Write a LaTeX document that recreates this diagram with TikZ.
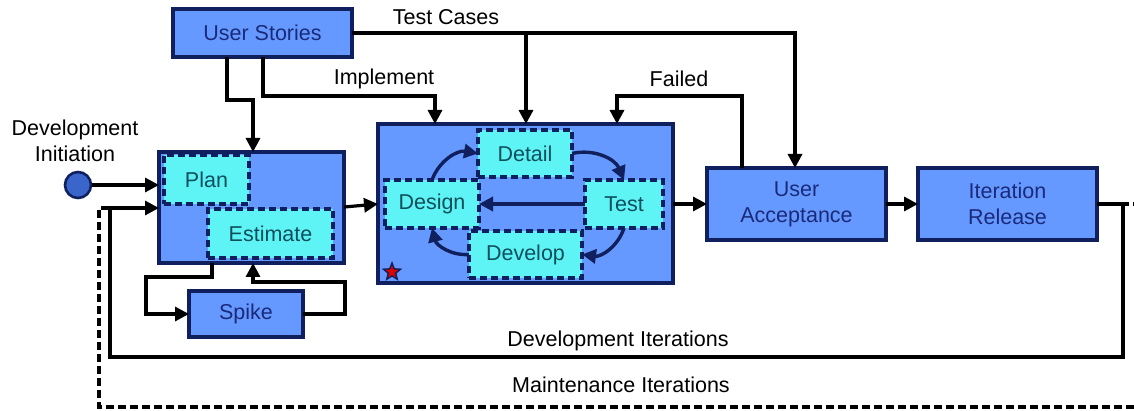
\documentclass[tikz,border=0pt]{standalone}
\usepackage{fontspec}
\setmainfont{Liberation Sans}
\usetikzlibrary{arrows.meta,shapes.geometric}
\definecolor{boxblue}{HTML}{6699FF}
\definecolor{boxcyan}{HTML}{5EF4F6}
\definecolor{navy}{HTML}{10205E}
\definecolor{navytext}{HTML}{1A2A7A}
\definecolor{tealtext}{HTML}{0E4F5C}
\definecolor{dotblue}{HTML}{3A66CC}
\begin{document}
\begin{tikzpicture}[x=1pt,y=-1pt,
  every node/.style={font=\fontsize{21.5}{26}\selectfont},
  bluebox/.style={draw=navy,line width=3.2pt,fill=boxblue,text=navytext,
    inner sep=0pt,outer sep=0pt,align=center},
  subbox/.style={draw=navy,line width=3.2pt,fill=boxcyan,text=tealtext,
    dash pattern=on 7pt off 4pt,inner sep=0pt,outer sep=0pt},
  lbl/.style={text=black,inner sep=0pt},
  conn/.style={line width=3.2pt,draw=black,-{Triangle[length=14pt,width=14pt]}},
  cyc/.style={line width=3.4pt,draw=navy,-{Triangle[length=14pt,width=14pt]}},
  maint/.style={line width=3.4pt,draw=black,dash pattern=on 8pt off 4pt}]
\clip (0,0) rectangle (1134,411);
\fill[white] (0,0) rectangle (1134,411);

% boxes
\node[bluebox,minimum width=179pt,minimum height=48pt] (us) at (262.5,33) {User Stories};
\node[bluebox,minimum width=185pt,minimum height=111pt] (pe) at (251.5,207.5) {};
\node[subbox,minimum width=85pt,minimum height=49pt] (plan) at (206.5,179.5) {Plan};
\node[subbox,minimum width=125pt,minimum height=49pt] (est) at (270.5,233.5) {Estimate};
\node[bluebox,minimum width=114pt,minimum height=46pt] (spike) at (246,314) {Spike};
\node[bluebox,minimum width=295pt,minimum height=159pt] (mid) at (525.5,203.5) {};
\node[subbox,minimum width=94pt,minimum height=47pt] (detail) at (525,153.5) {Detail};
\node[subbox,minimum width=94pt,minimum height=48pt] (design) at (432,204) {Design};
\node[subbox,minimum width=78pt,minimum height=48pt] (test) at (624,204) {Test};
\node[subbox,minimum width=113pt,minimum height=47pt] (develop) at (525.5,254.5) {Develop};
\node[star,star points=5,star point ratio=2.3,minimum size=18pt,inner sep=0pt,
  fill=red!85!black,draw=navy,line width=1.4pt] (mark) at (392,272) {};
\node[bluebox,minimum width=179pt,minimum height=72pt] (ua) at (796.5,204) {User\\Acceptance};
\node[bluebox,minimum width=179pt,minimum height=72pt] (ir) at (1007.5,204) {Iteration\\Release};
\node[circle,draw=navy,line width=2.6pt,fill=dotblue,minimum size=26pt,inner sep=0pt] (init) at (78,185) {};

% labels
\node[lbl,align=center] (initlbl) at (75,141) {Development\\Initiation};
\node[lbl] (tclbl) at (446,17) {Test Cases};
\node[lbl] (implbl) at (384,79) {Implement};
\node[lbl] (faillbl) at (679,79) {Failed};
\node[lbl] (devlbl) at (618,341) {Development Iterations};
\node[lbl] (mntlbl) at (621,385) {Maintenance Iterations};

% maintenance loop (dashed)
\coordinate (mA) at (1140,204);
\coordinate (mB) at (1140,407);
\coordinate (mC) at (99,407);
\coordinate (mD) at (99,208);
\draw[maint] (ir.east) -- (mA) -- (mB) -- (mC) -- (mD) -- (110,208);

% development loop
\coordinate (dA) at (1123,204);
\coordinate (dB) at (1123,357);
\coordinate (dC) at (110,357);
\coordinate (dD) at (110,208);
\draw[conn] (ir.east) -- (dA) -- (dB) -- (dC) -- (dD) -- (dD -| pe.west);

% initiation
\draw[conn] (init.east) -- (init -| pe.west);

% user stories into planning
\draw[conn] (227,0 |- us.south) -- (227,100) -- (253,100) -- (253,0 |- pe.north);
% implement
\draw[conn] (263,0 |- us.south) -- (263,96) -- (435,96) -- (435,0 |- mid.north);
% test cases
\draw[conn] (us.east |- 0,33) -- (795,33) -- (795,0 |- ua.north);
\draw[conn] (526,33) -- (526,0 |- mid.north);
% failed
\draw[conn] (742,0 |- ua.north) -- (742,96) -- (617,96) -- (617,0 |- mid.north);

% main flow
\draw[conn] (pe.east |- 0,207) -- (mid.west |- 0,204);
\draw[conn] (mid.east |- ua.west) -- (ua.west);
\draw[conn] (ua.east) -- (ir.west);

% spike loop
\draw[conn] (212,0 |- pe.south) -- (212,277) -- (146,277) -- (146,0 |- spike.west) -- (spike.west);
\draw[conn] (spike.east) -- (345,0 |- spike.east) -- (345,282) -- (253,282) -- (253,0 |- pe.south);

% design cycle
\draw[cyc] (design.north) to[bend left=40] (detail.west);
\draw[cyc] (detail.east) to[bend left=40] (test.north);
\draw[cyc] (test.south) to[bend left=40] (develop.east);
\draw[cyc] (develop.west) to[bend left=40] (design.south);
\draw[cyc] (test.west) -- (design.east);
\end{tikzpicture}
\end{document}
